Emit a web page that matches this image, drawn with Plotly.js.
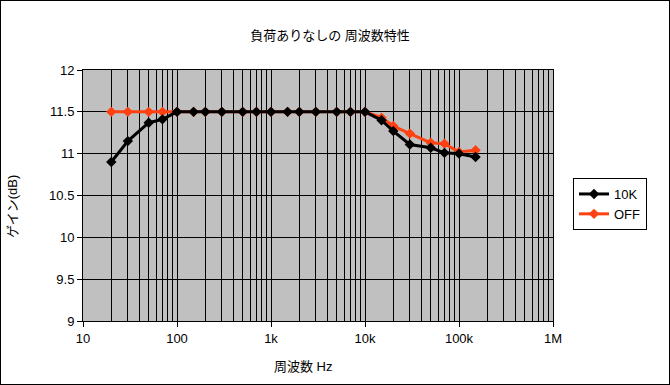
<!DOCTYPE html>
<html>
<head>
<meta charset="utf-8">
<script src="https://cdn.plot.ly/plotly-3.0.1.min.js"></script>
<style>
html,body{margin:0;padding:0;background:#fff;}
#wrap{position:relative;width:670px;height:385px;}
#chart{width:670px;height:385px;}
#frame{position:absolute;left:0;top:0;width:670px;height:385px;box-sizing:border-box;border:1px solid #000;pointer-events:none;}
</style>
</head>
<body>
<div id="wrap"><div id="chart"></div><div id="frame"></div></div>
<script>
// Data
const freq = [20,30,50,70,100,150,200,300,500,700,1000,1500,2000,3000,5000,7000,10000,15000,20000,30000,50000,70000,100000,150000];
const gain10K = [10.9,11.15,11.37,11.41,11.5,11.5,11.5,11.5,11.5,11.5,11.5,11.5,11.5,11.5,11.5,11.5,11.5,11.4,11.27,11.11,11.07,11.01,11.0,10.96];
const gainOFF = [11.5,11.5,11.5,11.5,11.5,11.5,11.5,11.5,11.5,11.5,11.5,11.5,11.5,11.5,11.5,11.5,11.5,11.43,11.33,11.24,11.13,11.12,11.02,11.04];
const seriesNames = ['10K','OFF'];
const xTickVals = [10,100,1000,10000,100000,1000000];
const xTickText = ['10','100','1k','10k','100k','1M'];
const titleText = '負荷ありなしの 周波数特性';
const xTitle = '周波数 Hz';
const yTitle = 'ゲイン(dB)';

const FONT = 'Liberation Sans, Arial, Noto Sans CJK JP, sans-serif';

const traces = [
  {x: freq, y: gainOFF, name: seriesNames[1], type: 'scatter', mode: 'lines+markers',
   line: {color: '#ff4010', width: 3}, marker: {symbol: 'diamond', size: 8, color: '#ff4010'}},
  {x: freq, y: gain10K, name: seriesNames[0], type: 'scatter', mode: 'lines+markers',
   line: {color: '#000000', width: 3}, marker: {symbol: 'diamond', size: 8, color: '#000000'}}
];

const layout = {
  width: 670, height: 385,
  margin: {l: 83, r: 117, t: 70, b: 64},
  paper_bgcolor: '#ffffff',
  plot_bgcolor: '#c0c0c0',
  font: {family: FONT, size: 13, color: '#000'},
  showlegend: true,
  title: {text: titleText, x: 0.4925, xref: 'container', y: 1 - 35/385, yref: 'container', yanchor: 'middle', xanchor: 'center',
          font: {family: FONT, size: 13, color: '#000'}},
  xaxis: {
    type: 'log', range: [1, 6],
    tickmode: 'array', tickvals: xTickVals, ticktext: xTickText,
    ticks: 'outside', ticklen: 5, tickcolor: '#000', tickwidth: 1,
    showgrid: true, gridcolor: '#000', gridwidth: 1,
    minor: {dtick: 'D1', showgrid: true, gridcolor: '#000', gridwidth: 1, ticks: ''},
    showline: true, linecolor: '#000', linewidth: 1, mirror: true,
    zeroline: false, tickfont: {family: FONT, size: 13, color: '#000'}
  },
  yaxis: {
    range: [9, 12], dtick: 0.5, tick0: 9,
    ticks: 'outside', ticklen: 5, tickcolor: '#000', tickwidth: 1,
    showgrid: true, gridcolor: '#000', gridwidth: 1,
    showline: true, linecolor: '#000', linewidth: 1, mirror: true,
    zeroline: false, tickfont: {family: FONT, size: 13, color: '#000'}
  },
  legend: {
    x: (573-83)/470, xanchor: 'left', y: (321-178)/251, yanchor: 'top',
    bgcolor: '#ffffff', bordercolor: '#000', borderwidth: 1,
    traceorder: 'reversed', itemwidth: 30, tracegroupgap: 0,
    font: {family: FONT, size: 13, color: '#000'}
  },
  annotations: [
    {text: xTitle, xref: 'paper', yref: 'paper', x: (303-83)/470, y: (321-366)/251,
     xanchor: 'center', yanchor: 'middle', showarrow: false, font: {family: FONT, size: 13, color: '#000'}},
    {text: yTitle, xref: 'paper', yref: 'paper', x: (12-83)/470, y: (321-207)/251,
     xanchor: 'center', yanchor: 'middle', textangle: -90, showarrow: false, font: {family: FONT, size: 13, color: '#000'}}
  ]
};

Plotly.newPlot('chart', traces, layout, {displayModeBar: false, staticPlot: true});
</script>
</body>
</html>
